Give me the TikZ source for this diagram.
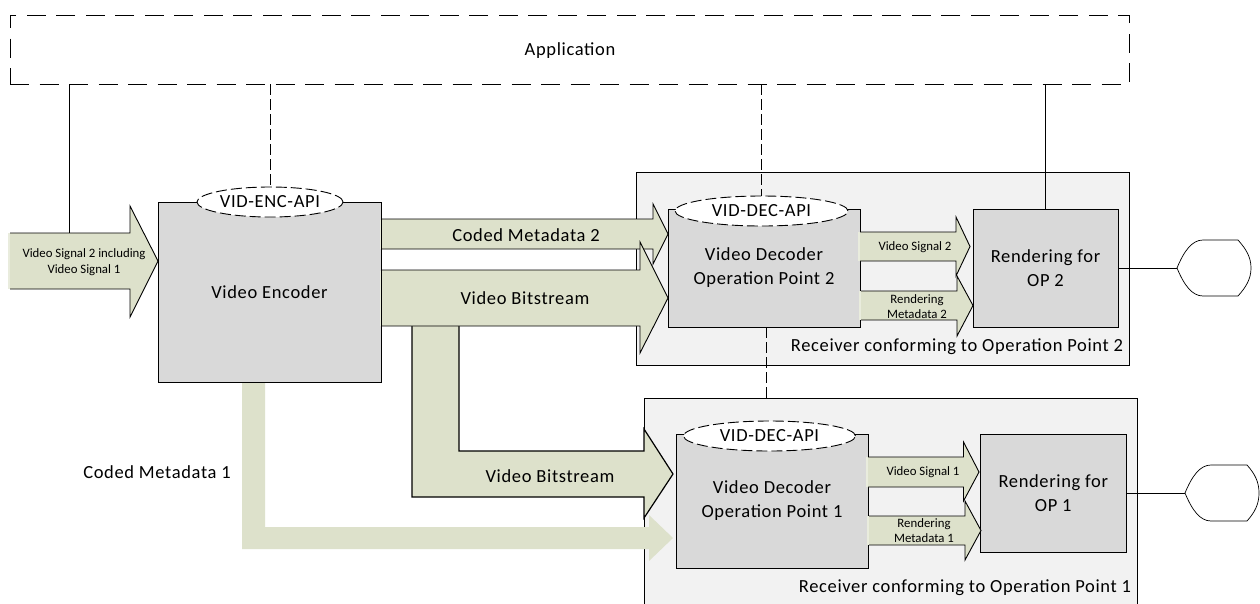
\documentclass[tikz,border=0pt]{standalone}
\usepackage{fontspec}
\setmainfont{Carlito}
\newfontfamily\lab[LetterSpace=3.5]{Carlito}
\usetikzlibrary{shapes.geometric}
\definecolor{flowfill}{HTML}{DDE1CB}
\definecolor{flowpale}{HTML}{E9ECDD}
\definecolor{boxfill}{HTML}{D9D9D9}
\definecolor{recfill}{HTML}{F2F2F2}
\tikzset{
  conn/.style={draw=black,line width=0.9pt},
  dconn/.style={draw=black,line width=0.9pt,dash pattern=on 11pt off 4pt},
  unit/.style={draw=black,fill=boxfill,line width=0.9pt,anchor=north west,inner sep=0pt,outer sep=0pt,align=center,
    font=\lab\fontsize{18.5}{24}\selectfont},
  receiver/.style={draw=black,fill=recfill,line width=0.9pt,anchor=north west,inner sep=0pt,outer sep=0pt},
  api/.style={ellipse,draw=black,fill=white,line width=0.9pt,dash pattern=on 11pt off 4pt,inner sep=0pt,outer sep=0pt,
    font=\lab\fontsize{18.5}{20}\selectfont},
  big/.style={inner sep=0pt,align=center,font=\lab\fontsize{18.5}{24}\selectfont},
  mini/.style={inner sep=0pt,align=center,font=\fontsize{12.8}{15.5}\selectfont},
  flowline/.style={draw=black,line width=0.9pt,line join=miter},
  heavyline/.style={draw=black,line width=1.2pt,line join=miter},
  display/.style={draw=black,fill=white,line width=0.7pt},
}
% x start, x head base, x tip, shaft top, shaft bottom, head top, head bottom
\newcommand{\flowarrow}[7]{%
  \fill[flowfill] (#1,#4) -- (#2,#4) -- (#2,#6) -- (#3,{(#4+#5)/2}) -- (#2,#7) -- (#2,#5) -- (#1,#5) -- cycle;
  \fill[flowpale] ({#1-2},#4) rectangle (#1,#5);
  \draw[flowline] (#1,#4) -- (#2,#4) -- (#2,#6) -- (#3,{(#4+#5)/2}) -- (#2,#7) -- (#2,#5) -- (#1,#5);
}
% left point x, flat start x, flat end x, max x, centre y, half height
\newcommand{\displayshape}[6]{%
  \draw[display] (#1,#5) .. controls ({#1+7},{#5-17}) and ({#2-11},{#5-#6}) .. (#2,{#5-#6})
    -- (#3,{#5-#6}) .. controls ({#3+8},{#5-#6+9}) and (#4,{#5-11}) .. (#4,#5)
    .. controls (#4,{#5+11}) and ({#3+8},{#5+#6-9}) .. (#3,{#5+#6})
    -- (#2,{#5+#6}) .. controls ({#2-11},{#5+#6}) and ({#1+7},{#5+17}) .. (#1,#5) -- cycle;
}
\begin{document}
\begin{tikzpicture}[x=1pt,y=-1pt]
\useasboundingbox (0,0) rectangle (1260,603);
\clip (0,0) rectangle (1260,603);
\fill[white] (0,0) rectangle (1260,603);

% receivers
\node[receiver,minimum width=493pt,minimum height=193pt] (rec2) at (636,172) {};
\node[receiver,minimum width=493pt,minimum height=215pt] (rec1) at (644,398) {};

% application
\node[draw=black,line width=0.9pt,dash pattern=on 19pt off 10.5pt,anchor=north west,minimum width=1119pt,minimum height=69pt,inner sep=0pt,outer sep=0pt] (app) at (10,15) {};
\node[big] (applabel) at (570,51) {Application};

% flows
\flowarrow{10}{130}{158}{233}{289}{206}{317}
\flowarrow{381}{653}{668}{219}{249}{204}{264}

% lower video bitstream, branching off
\fill[flowfill] (412,326) -- (459,326) -- (459,451) -- (644,451) -- (644,429) -- (673,474) -- (644,518) -- (644,497) -- (412,497) -- cycle;
\draw[heavyline] (412,326) -- (412,497) -- (644,497) -- (644,518) -- (673,474) -- (644,429) -- (644,451) -- (459,451) -- (459,326);
\flowarrow{381}{640}{668}{270}{326}{242}{353}

% coded metadata 1
\fill[flowfill] (242,382) -- (265,382) -- (265,527) -- (649,527) -- (649,515) -- (673,538) -- (649,561) -- (649,549) -- (242,549) -- cycle;

% units
\node[unit,minimum width=223pt,minimum height=180pt] (enc) at (158,202) {Video Encoder};
\node[unit,minimum width=192pt,minimum height=118pt] (dec2) at (668,209) {Video Decoder\\Operation Point 2};
\node[unit,minimum width=192pt,minimum height=134pt] (dec1) at (676,434) {Video Decoder\\Operation Point 1};
\node[unit,minimum width=145pt,minimum height=118pt] (rend2) at (973,209) {Rendering for\\OP 2};
\node[unit,minimum width=145.5pt,minimum height=118pt] (rend1) at (980.5,434) {Rendering for\\OP 1};
\fill[flowpale] (379.5,219.5) rectangle (381,248.5);
\fill[flowpale] (379.5,270.5) rectangle (381,325.5);

% decoder outputs
\flowarrow{860}{956}{970}{232}{261}{217}{276}
\flowarrow{861}{957}{973}{291}{320}{276}{336}
\flowarrow{868}{963.5}{979}{457}{487}{442}{501}
\flowarrow{869}{965}{981}{516}{545}{501}{560}

% API ellipses
\node[api,minimum width=146pt,minimum height=30pt] (encapi) at (270,202) {VID-ENC-API};
\node[api,minimum width=173pt,minimum height=30pt] (dec2api) at (761.5,211) {VID-DEC-API};
\node[api,minimum width=172pt,minimum height=30pt] (dec1api) at (769.5,436) {VID-DEC-API};

% connectors
\coordinate (inTop) at (69,233);
\coordinate (dashA) at (766,327);
\coordinate (d2) at (1177,268);
\coordinate (d1) at (1185,493);
\draw[conn] (app.south -| inTop) -- (inTop);
\draw[conn] (app.south -| rend2.north) -- (rend2.north);
\draw[dconn] (app.south -| encapi.north) -- (encapi.north);
\draw[dconn] (app.south -| dec2api.north) -- (dec2api.north);
\draw[dconn] (dashA) -- (rec1.north -| dashA);
\draw[conn] (rend2.east) -- (d2);
\draw[conn] (rend1.east) -- (d1);

% displays
\displayshape{1177}{1203}{1238}{1251}{268}{28}
\displayshape{1185}{1211}{1247}{1259}{493}{28}

% labels
\node[mini] (l1) at (84,262) {Video Signal 2 including\\Video Signal 1};
\node[big] (l2) at (526,235) {Coded Metadata 2};
\node[big] (l3) at (525,298) {Video Bitstream};
\node[big] (l4) at (550,476) {Video Bitstream};
\node[big] (l5) at (157,472) {Coded Metadata 1};
\node[mini] (l6) at (915,247) {Video Signal 2};
\node[mini] (l7) at (917,306.5) {Rendering\\Metadata 2};
\node[mini] (l8) at (923,472) {Video Signal 1};
\node[mini] (l9) at (924,530.5) {Rendering\\Metadata 1};
\node[big] (l10) at (957,347) {Receiver conforming to Operation Point 2};
\node[big] (l11) at (965,588) {Receiver conforming to Operation Point 1};
\end{tikzpicture}
\end{document}
